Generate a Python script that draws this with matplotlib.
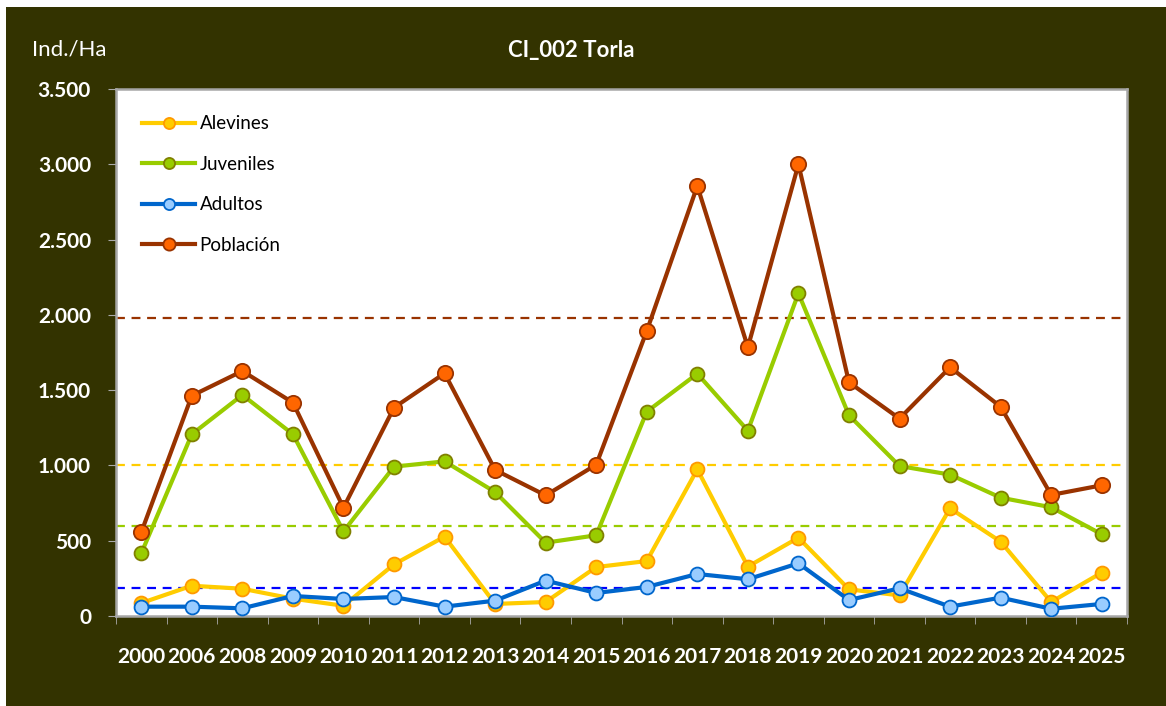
import numpy as np
import matplotlib
matplotlib.use('Agg')
import matplotlib.pyplot as plt
from matplotlib.patches import Rectangle
from matplotlib.ticker import FuncFormatter, FixedLocator

# Datos
anios = ['2000', '2006', '2008', '2009', '2010', '2011', '2012', '2013', '2014', '2015',
         '2016', '2017', '2018', '2019', '2020', '2021', '2022', '2023', '2024', '2025']
alevines = [86, 201, 181, 115, 68, 343, 527, 80, 93, 325,
            365, 974, 328, 520, 177, 137, 715, 494, 93, 288]
juveniles = [416, 1207, 1468, 1207, 562, 992, 1027, 823, 487, 536,
             1357, 1609, 1231, 2143, 1333, 996, 939, 786, 722, 543]
adultos = [62, 62, 51, 133, 113, 126, 62, 102, 235, 153,
           193, 279, 244, 350, 106, 184, 62, 122, 48, 80]
poblacion = [556, 1463, 1627, 1417, 719, 1384, 1612, 970, 801, 1005,
             1893, 2856, 1785, 3000, 1552, 1311, 1652, 1390, 804, 868]

# Valores de referencia (líneas discontinuas)
ref_poblacion = 1980
ref_alevines = 1000
ref_juveniles = 600
ref_adultos = 184

fondo = '#333300'
plt.rcParams['font.family'] = ['Lato', 'DejaVu Sans']

fig = plt.figure(figsize=(11.66, 7.06), dpi=100)
fig.patch.set_facecolor('white')
fig.patches.append(Rectangle((6 / 1166, 0), 1, 1 - 7 / 706, transform=fig.transFigure,
                             facecolor=fondo, edgecolor='none', zorder=-10))
ax = fig.add_axes([116 / 1166, 1 - 616 / 706, (1127 - 116) / 1166, (616 - 89) / 706])
ax.set_facecolor('white')

x = np.arange(len(anios))

# Líneas de referencia
ax.axhline(ref_poblacion, color='#993300', ls=(0, (4, 3)), lw=1.6, zorder=1)
ax.axhline(ref_alevines, color='#FFCC00', ls=(0, (4, 3)), lw=1.6, zorder=1)
ax.axhline(ref_juveniles, color='#99CC00', ls=(0, (4, 3)), lw=1.6, zorder=1)
ax.axhline(ref_adultos, color='#0000FF', ls=(0, (4, 3)), lw=1.6, zorder=1)

# Series
ax.plot(x, alevines, color='#FFCC00', lw=3, marker='o', ms=10,
        mfc='#FFCC00', mec='#FF9900', mew=1.3, label='Alevines', zorder=3)
ax.plot(x, juveniles, color='#99CC00', lw=3, marker='o', ms=10,
        mfc='#99CC00', mec='#808000', mew=1.3, label='Juveniles', zorder=3)
ax.plot(x, adultos, color='#0066CC', lw=3, marker='o', ms=10,
        mfc='#99CCFF', mec='#0066CC', mew=1.3, label='Adultos', zorder=4)
ax.plot(x, poblacion, color='#993300', lw=3, marker='o', ms=11,
        mfc='#FF6600', mec='#993300', mew=1.3, label='Población', zorder=5)

ax.set_xlim(-0.5, len(anios) - 0.5)
ax.set_ylim(0, 3500)

# Ejes
ax.set_yticks(np.arange(0, 3501, 500))
ax.yaxis.set_major_formatter(FuncFormatter(lambda v, p: f'{int(v):,}'.replace(',', '.')))
ax.set_xticks(x)
ax.set_xticklabels(anios)
ax.xaxis.set_minor_locator(FixedLocator(np.arange(-0.5, len(anios), 1)))
ax.tick_params(axis='x', which='major', length=0, pad=22, colors='white', labelsize=15)
ax.tick_params(axis='x', which='minor', length=6, color='#aaaaaa', direction='out')
ax.tick_params(axis='y', length=6, color='#aaaaaa', direction='out', pad=12,
               colors='white', labelsize=15)
for lab in ax.get_xticklabels() + ax.get_yticklabels():
    lab.set_fontweight('bold')
ax.tick_params(axis='y', color='#aaaaaa')
ax.tick_params(axis='x', which='minor', color='#aaaaaa')
for s in ax.spines.values():
    s.set_color('#a6a6a6')
    s.set_linewidth(1.8)

# Títulos
fig.text(571 / 1166, 1 - 50 / 706, 'CI_002 Torla', color='white', fontsize=16,
         fontweight='bold', ha='center', va='center')
fig.text(32 / 1166, 1 - 50 / 706, 'Ind./Ha', color='white', fontsize=16,
         ha='left', va='center')

leg = ax.legend(loc='upper left', frameon=False, fontsize=13.5, handlelength=2.8,
                labelspacing=1.25, borderaxespad=1.0, handletextpad=0.25,
                markerscale=0.8, borderpad=0.4)

fig.savefig('out.png', dpi=100, facecolor=fig.get_facecolor())
